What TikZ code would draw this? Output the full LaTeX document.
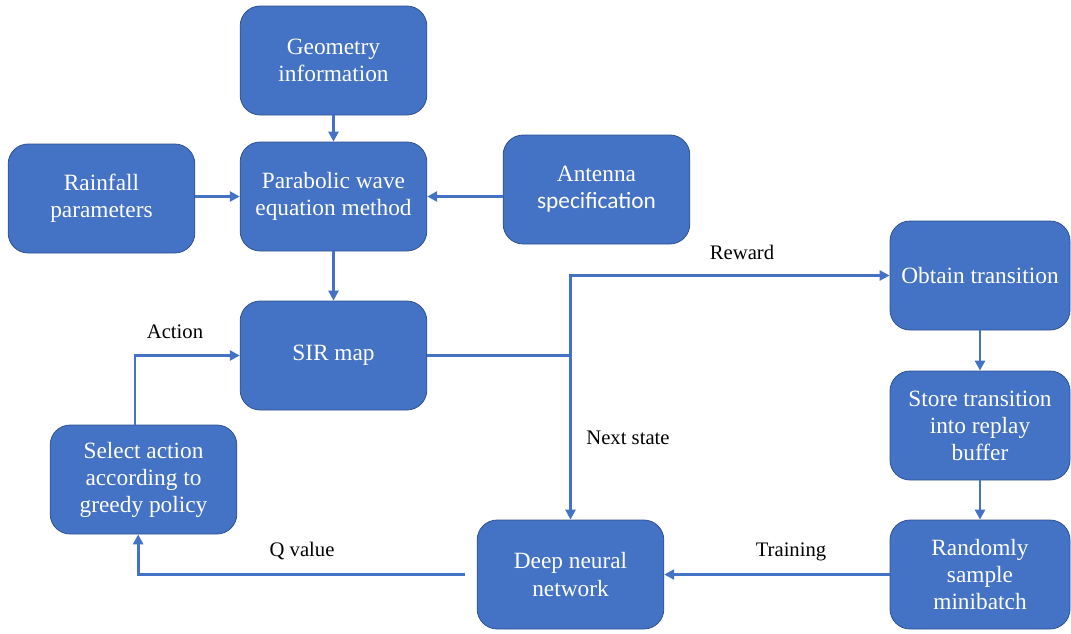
\documentclass[tikz,border=0pt]{standalone}
\usepackage{fontspec}
\setmainfont{Liberation Serif}
\newfontfamily\carlitofont{Carlito}
\usetikzlibrary{arrows.meta}
\definecolor{boxblue}{HTML}{4472C4}
\definecolor{boxedge}{HTML}{2F528F}
\begin{document}
\begin{tikzpicture}[x=0.75pt,y=-0.75pt,
	block/.style={draw=boxedge,line width=0.6pt,fill=boxblue,rounded corners=15pt,
		minimum width=140pt,minimum height=81.75pt,text=white,align=center,inner sep=2pt,
		font=\myboxfont},
	link/.style={draw=boxblue,line width=2.2pt,-{Triangle[length=7.5pt,width=7.5pt]}},
	plain/.style={draw=boxblue,line width=2.2pt},
	tag/.style={font=\mylabelfont,text=black,inner sep=1pt}]
			\newcommand{\myboxfont}{\rmfamily\fontsize{17.5}{20.3}\selectfont}
			\newcommand{\mylabelfont}{\rmfamily\fontsize{15.5}{18}\selectfont}
			%Page frame
			\useasboundingbox (0,0) rectangle (1071,633);
			%Box centres
			\coordinate (cgeo) at (333.5,60.5);
			\coordinate (crain) at (101.5,198.5);
			\coordinate (cpwe) at (333.5,196.5);
			\coordinate (cant) at (596.5,189.5);
			\coordinate (csir) at (333.5,355.5);
			\coordinate (csel) at (143.5,479.5);
			\coordinate (cdnn) at (570.5,574.5);
			\coordinate (cobt) at (980.0,275.5);
			\coordinate (csto) at (980.0,425.5);
			\coordinate (crnd) at (980.0,574.5);
			%Boxes
			\node [block] (geo) at (cgeo) {Geometry\\information};
			\node [block] (rain) at (crain) {Rainfall\\parameters};
			\node [block] (pwe) at (cpwe) {Parabolic wave\\equation method};
			\node [block] (ant) at (cant) {Antenna\\{\carlitofont specification}};
			\node [block] (sir) at (csir) {SIR map};
			\node [block] (sel) at (csel) {Select action\\according to\\greedy policy};
			\node [block] (dnn) at (cdnn) {Deep neural\\network};
			\node [block,minimum width=135pt] (obt) at (cobt) {Obtain transition};
			\node [block,minimum width=135pt] (sto) at (csto) {Store transition\\into replay\\buffer};
			\node [block,minimum width=135pt] (rnd) at (crnd) {Randomly\\sample\\minibatch};
			%Inputs of the wave equation
			\draw [link] (geo.south) -- (pwe.north);
			\draw [link] (rain.east |- pwe.west) -- (pwe.west);
			\draw [link] (ant.west |- pwe.east) -- (pwe.east);
			\draw [link] (pwe.south) -- (sir.north);
			%Branch after the SIR map
			\coordinate (split) at (dnn.north |- sir.east);
			\draw [plain] (sir.east) -- (split);
			\draw [link] (split) |- (obt.west);
			\draw [link] (split) -- (dnn.north);
			%Replay chain
			\draw [link] (obt.south) -- (sto.north);
			\draw [link] (sto.south) -- (rnd.north);
			\draw [link] (rnd.west) -- (dnn.east);
			%Back to the policy
			\draw [link] ([xshift=-9pt]dnn.west) -| ([xshift=-4pt]sel.south);
			\draw [link] ([xshift=-6.4pt]sel.north) |- (sir.west);
			%Labels of the connectors
			\node [tag] (lact) at (175,332) {Action};
			\node [tag] (lrew) at (742,252) {Reward};
			\node [tag] (lnext) at (628,438) {Next state};
			\node [tag] (lq) at (302,551) {Q value};
			\node [tag] (ltrain) at (791,552) {Training};
\end{tikzpicture}
\end{document}
